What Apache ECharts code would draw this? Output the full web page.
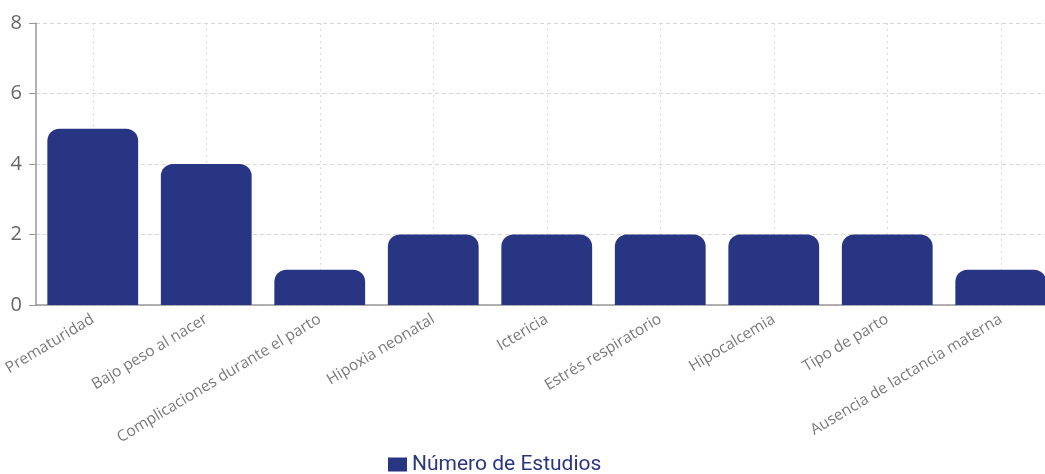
<!DOCTYPE html>
<html><head><meta charset="utf-8">
<script src="https://cdn.jsdelivr.net/npm/echarts@6/dist/echarts.min.js"></script>
<style>html,body{margin:0;padding:0;background:#fff}#c{width:1045px;height:474px}</style>
</head><body><div id="c"></div>
<script>
const categories = ["Prematuridad","Bajo peso al nacer","Complicaciones durante el parto","Hipoxia neonatal","Ictericia","Estrés respiratorio","Hipocalcemia","Tipo de parto","Ausencia de lactancia materna"];
const values = [5,4,1,2,2,2,2,2,1];
const seriesName = "Número de Estudios";
const yTicks = {min:0,max:8,interval:2};

const chart = echarts.init(document.getElementById('c'));
chart.setOption({
  animation:false,
  grid:{left:36,top:23,height:282,width:1021.5,containLabel:false,outerBoundsMode:'none'},
  legend:{top:449,left:383,itemWidth:19,itemHeight:14,itemGap:6,
    textStyle:{color:'#2a3680',fontSize:21,fontFamily:'Roboto'},
    data:[{name:seriesName,icon:'rect'}]},
  xAxis:{type:'category',data:categories,
    axisLine:{lineStyle:{color:'#999',width:1.5}},
    axisTick:{alignWithLabel:true,length:6,lineStyle:{color:'#999'}},
    splitLine:{show:true,alignWithLabel:true,lineStyle:{color:'#dadada',type:[2,4]}},
    axisLabel:{rotate:31,interval:0,color:'#7a7a7a',fontSize:15.5,fontFamily:'Open Sans',margin:13}},
  yAxis:{type:'value',min:yTicks.min,max:yTicks.max,interval:yTicks.interval,
    axisLine:{show:true,lineStyle:{color:'#999',width:1.5}},
    axisTick:{show:true,length:7,lineStyle:{color:'#999'}},
    splitLine:{lineStyle:{color:'#d6d6d6',type:[4,3]}},
    axisLabel:{color:'#666',fontSize:20,fontFamily:'Open Sans',margin:14}},
  series:[{name:seriesName,type:'bar',data:values,barCategoryGap:'20%',
    itemStyle:{color:'#283583',borderRadius:[12,12,0,0]}}]
});
</script></body></html>
